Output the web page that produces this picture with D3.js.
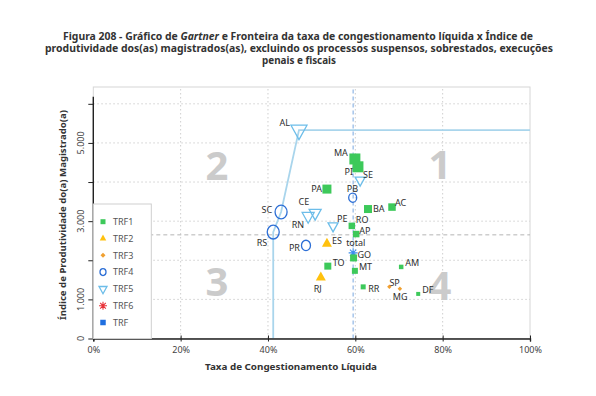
<!DOCTYPE html>
<html>
<head>
<meta charset="utf-8">
<title>Figura 208 - Gartner</title>
<script src="https://cdn.jsdelivr.net/npm/d3@7"></script>
<style>
  body { margin: 0; background: #fff; }
  text { font-family: "Noto Sans", "Open Sans", sans-serif; }
</style>
</head>
<body>
<div id="chart"></div>
<script>
// values
var states = ["AL","MA","PI","SE","PB","PA","BA","AC","SC","CE","RN","PE","RO","AP","RS",
              "ES","PR","total","GO","TO","MT","AM","RJ","RR","SP","MG","DF"];
var groups = ["TRF5","TRF1","TRF1","TRF5","TRF4","TRF1","TRF1","TRF1","TRF4","TRF5","TRF5","TRF5","TRF1","TRF1","TRF4",
              "TRF2","TRF4","total","TRF1","TRF1","TRF1","TRF1","TRF2","TRF1","TRF3","TRF3","TRF1"];
var taxa = [47.1, 59.9, 60.6, 61.1, 59.4, 53.5, 62.9, 68.4, 43.0, 50.8, 49.2, 54.9, 59.2, 60.2, 41.2,
            53.5, 48.7, 59.5, 59.6, 53.7, 59.9, 70.5, 52.1, 61.8, 67.8, 70.2, 74.4];
var ipm = [5330, 4590, 4390, 4050, 3600, 3820, 3310, 3360, 3235, 3210, 3130, 2880, 2880, 2670, 2720,
           2420, 2380, 2190, 2060, 1850, 1730, 1830, 1560, 1320, 1320, 1270, 1140];
var legendNames = ["TRF1","TRF2","TRF3","TRF4","TRF5","TRF6","TRF"];
var frontierX = [41.2, 41.2, 43.0, 47.1, 100];
var frontierY = [0, 2720, 3235, 5330, 5330];
var meanTaxa = 59.5;
var meanIpm = 2650;
var xTicks = [0, 20, 40, 60, 80, 100];
var yTicks = [0, 1000, 2000, 3000, 4000, 5000, 6000];
var yLabelled = [0, 1000, 3000, 5000];
var quadrantNames = ["1", "2", "3", "4"];

// layout
var width = 596, height = 396;
var quadPos = [[79.4, 4070], [28.3, 4053], [28.3, 1087], [79.4, 990]];
var markerPx = {AL:16, MA:11, PI:11, SE:10, PB:8, PA:9, BA:8, AC:7.5, SC:12, CE:12, RN:12, PE:10, RO:6.5, AP:6.5,
                RS:12, ES:10, PR:9, total:9, GO:7, TO:7, MT:6, AM:4.5, RJ:10, RR:5, SP:4.5, MG:4.5, DF:4};
var labelPos = {
  AL:[-9,-4,"end"], MA:[-7,-3,"end"], PI:[-5,8,"end"], SE:[3,-2,"start"], PB:[-6,-6,"start"],
  PA:[-5,3,"end"], BA:[5,3,"start"], AC:[3,-1,"start"], SC:[-9,1,"end"], CE:[-6,-8,"end"],
  RN:[-4,12,"end"], PE:[4,-4,"start"], RO:[4,-2.5,"start"], AP:[3,-0.5,"start"], RS:[-6,14,"end"],
  ES:[5,0,"start"], PR:[-6,6,"end"], total:[-7,-7,"start"], GO:[4,0.5,"start"], TO:[5,0,"start"],
  MT:[4,-1,"start"], AM:[4,-1,"start"], RJ:[1,15,"end"], RR:[5,5,"start"], SP:[0,-1,"start"],
  MG:[-7,11,"start"], DF:[4,-1,"start"]
};
var style = {
  TRF1: {shape:"square", color:"#3dc95a"},
  TRF2: {shape:"tri", color:"#ffc10e"},
  TRF3: {shape:"diamond", color:"#f0a030"},
  TRF4: {shape:"circle", color:"#2d6fd6"},
  TRF5: {shape:"tridown", color:"#6cbde9"},
  TRF6: {shape:"star", color:"#e8333a"},
  TRF:  {shape:"square", color:"#1f6fe0"},
  total:{shape:"star", color:"#3b8eea"}
};
var legendPx = {TRF1:5, TRF2:6.5, TRF3:5, TRF4:6, TRF5:8, TRF6:8, TRF:5.5};

function shapePath(shape, w) {
  var r = w / 2, h = w * 0.9;
  if (shape == "square") return d3.symbol(d3.symbolSquare, w * w)();
  if (shape == "tri") return "M0," + (-h * 2 / 3) + "L" + r + "," + (h / 3) + "L" + (-r) + "," + (h / 3) + "Z";
  if (shape == "tridown") return "M0," + (h * 2 / 3) + "L" + r + "," + (-h / 3) + "L" + (-r) + "," + (-h / 3) + "Z";
  if (shape == "diamond") return "M0," + (-r) + "L" + r + ",0L0," + r + "L" + (-r) + ",0Z";
  if (shape == "circle") {
    var ry = r * 1.15;
    return "M" + (-r) + ",0A" + r + "," + ry + " 0 1,0 " + r + ",0A" + r + "," + ry + " 0 1,0 " + (-r) + ",0Z";
  }
  // asterisk
  var p = "";
  [0, 45, 90, 135].forEach(function(a) {
    var c = Math.cos(a * Math.PI / 180) * r, s = Math.sin(a * Math.PI / 180) * r;
    p += "M" + c + "," + s + "L" + (-c) + "," + (-s);
  });
  return p;
}
function paint(sel, st) {
  var filled = st.shape == "square" || st.shape == "tri" || st.shape == "diamond";
  sel.attr("fill", filled ? st.color : "none")
     .attr("stroke", filled ? "none" : st.color)
     .attr("stroke-width", st.shape == "star" ? 1.1 : 1.3);
}

var svg = d3.select("#chart").append("svg")
    .attr("width", width)
    .attr("height", height);

// title
var titleLines = [
  {y: 39.5, len: 470},
  {y: 51.5, len: 508, text: "produtividade dos(as) magistrados(as), excluindo os processos suspensos, sobrestados, execuções"},
  {y: 63.5, len: 74, text: "penais e fiscais"}
];
var t1 = svg.append("text").attr("x", 298).attr("y", titleLines[0].y)
    .attr("text-anchor", "middle").attr("font-size", 10.8).attr("font-weight", 700).attr("fill", "#333")
    .attr("textLength", titleLines[0].len).attr("lengthAdjust", "spacingAndGlyphs");
t1.append("tspan").text("Figura 208 - Gráfico de ");
t1.append("tspan").attr("font-style", "italic").text("Gartner");
t1.append("tspan").text(" e Fronteira da taxa de congestionamento líquida x Índice de");
titleLines.slice(1).forEach(function(l) {
  svg.append("text").attr("x", 299).attr("y", l.y)
    .attr("text-anchor", "middle").attr("font-size", 10.8).attr("font-weight", 700).attr("fill", "#333")
    .attr("textLength", l.len).attr("lengthAdjust", "spacingAndGlyphs")
    .text(l.text);
});

var x = d3.scaleLinear().domain([0, 100]).range([93.3, 530]);
var y = d3.scaleLinear().domain([0, 6430]).range([338.5, 87]);

// plot frame
svg.append("rect")
    .attr("x", x(0)).attr("y", y(6430))
    .attr("width", x(100) - x(0)).attr("height", y(0) - y(6430))
    .attr("fill", "none").attr("stroke", "#d6d6d6");

// dotted grid
svg.append("g").selectAll("line").data(xTicks.slice(1, 5)).enter().append("line")
    .attr("x1", function(d) { return x(d); }).attr("x2", function(d) { return x(d); })
    .attr("y1", y(0)).attr("y2", y(6430))
    .attr("stroke", "#cfcfcf").attr("stroke-dasharray", "1.5,2.5");
svg.append("g").selectAll("line").data(yTicks.slice(1)).enter().append("line")
    .attr("x1", x(0)).attr("x2", x(100))
    .attr("y1", function(d) { return y(d); }).attr("y2", function(d) { return y(d); })
    .attr("stroke", "#cfcfcf").attr("stroke-dasharray", "1.5,2.5");

// mean lines
svg.append("line")
    .attr("x1", x(0)).attr("x2", x(100)).attr("y1", y(meanIpm)).attr("y2", y(meanIpm))
    .attr("stroke", "#b5b5b5").attr("stroke-dasharray", "4,3");
svg.append("line")
    .attr("x1", x(meanTaxa)).attr("x2", x(meanTaxa)).attr("y1", y(0)).attr("y2", y(6430))
    .attr("stroke", "#8fb6e6").attr("stroke-width", 1.2).attr("stroke-dasharray", "4,3");

// quadrant numbers
svg.append("g").selectAll("text").data(quadrantNames).enter().append("text")
    .attr("x", function(d, i) { return x(quadPos[i][0]); })
    .attr("y", function(d, i) { return y(quadPos[i][1]); })
    .attr("text-anchor", "middle").attr("font-size", 40).attr("font-weight", 700)
    .attr("fill", "#cbcbcb").text(function(d) { return d; });

// frontier
var line = d3.line().x(function(d) { return x(d[0]); }).y(function(d) { return y(d[1]); });
svg.append("path")
    .datum(frontierX.map(function(v, i) { return [v, frontierY[i]]; }))
    .attr("d", line).attr("fill", "none").attr("stroke", "#a9d5ec").attr("stroke-width", 1.8);

// points
var pts = states.map(function(s, i) { return {s: s, g: groups[i], x: taxa[i], y: ipm[i]}; });
var pg = svg.append("g");
pts.forEach(function(d) {
  var st = style[d.g];
  pg.append("path")
    .attr("transform", "translate(" + x(d.x) + "," + y(d.y) + ")")
    .attr("d", shapePath(st.shape, markerPx[d.s]))
    .call(paint, st);
});
pts.forEach(function(d) {
  var lp = labelPos[d.s];
  pg.append("text")
    .attr("x", x(d.x) + lp[0]).attr("y", y(d.y) + lp[1])
    .attr("text-anchor", lp[2]).attr("font-size", 9).attr("fill", "#2e2e2e")
    .text(d.s);
});

// axes
var xAxis = svg.append("g").attr("transform", "translate(0," + y(0) + ")")
    .call(d3.axisBottom(x).tickValues(xTicks).tickSizeOuter(0).tickSize(3)
      .tickFormat(function(d) { return d + "%"; }));
xAxis.select(".domain").attr("stroke", "#222").attr("stroke-width", 1.4);
xAxis.selectAll(".tick line").attr("y1", -3).attr("y2", 3).attr("stroke", "#222");
xAxis.selectAll(".tick text").attr("y", 14.5).attr("dy", 0)
    .attr("font-size", 9).attr("fill", "#444").attr("font-family", "Noto Sans");

var yAxis = svg.append("g").attr("transform", "translate(" + x(0) + ",0)")
    .call(d3.axisLeft(y).tickValues(yTicks).tickSizeOuter(0).tickSize(5).tickFormat(""));
yAxis.select(".domain").remove();
yAxis.selectAll(".tick line").attr("stroke", "#222");
yAxis.append("line").attr("x1", 0).attr("x2", 0).attr("y1", y(6180)).attr("y2", y(0))
    .attr("stroke", "#222").attr("stroke-width", 1.4);
svg.append("g").selectAll("text").data(yLabelled).enter().append("text")
    .attr("transform", function(d) { return "translate(84," + y(d) + ") rotate(-90)"; })
    .attr("text-anchor", "middle").attr("font-size", 9).attr("fill", "#444")
    .text(function(d) { return d3.format(",")(d).replace(",", "."); });

svg.append("text").attr("x", 291).attr("y", 370)
    .attr("text-anchor", "middle").attr("font-size", 9).attr("font-weight", 700).attr("fill", "#333")
    .attr("textLength", 172).attr("lengthAdjust", "spacingAndGlyphs")
    .text("Taxa de Congestionamento Líquida");
svg.append("text").attr("transform", "translate(66,215) rotate(-90)")
    .attr("text-anchor", "middle").attr("font-size", 9).attr("font-weight", 700).attr("fill", "#333")
    .attr("textLength", 210).attr("lengthAdjust", "spacingAndGlyphs")
    .text("Índice de Produtividade do(a) Magistrado(a)");

// legend
var lg = svg.append("g");
lg.append("rect").attr("x", x(0)).attr("y", 204).attr("width", 58).attr("height", y(0) - 204)
    .attr("fill", "#fff").attr("stroke", "#cfcfcf");
legendNames.forEach(function(n, i) {
  var ly = 221.7 + i * 16.8, st = style[n];
  lg.append("path").attr("transform", "translate(103," + ly + ")")
    .attr("d", shapePath(st.shape, legendPx[n])).call(paint, st);
  lg.append("text").attr("x", 113).attr("y", ly + 3.2)
    .attr("font-size", 9).attr("fill", "#555").text(n);
});
</script>
</body>
</html>
